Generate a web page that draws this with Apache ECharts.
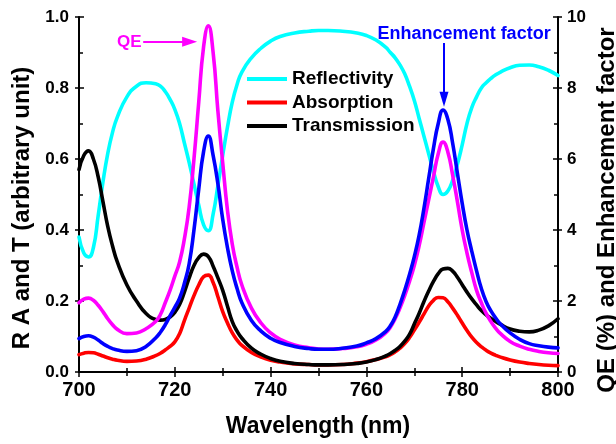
<!DOCTYPE html>
<html>
<head>
<meta charset="utf-8">
<script src="https://cdn.jsdelivr.net/npm/echarts@6/dist/echarts.min.js"></script>
<style>html,body{margin:0;padding:0;background:#fff;}#c{width:616px;height:444px;}</style>
</head>
<body>
<div id="c"></div>
<script>
const wavelength = [700,701,702,703,704,705,706,707,708,710,712,714,716,717,718,719,720,721,722,723,724,725,726,727,728,729,730,731,732,733,734,736,738,740,742,745,748,750,752,755,758,760,762,764,765,766,767,768,769,770,771,772,773,774,775,776,777,778,779,780,781,782,783,784,785,786,787,788,790,792,794,796,798,800];

const reflectivity = [0.38,0.335,0.324,0.35,0.44,0.535,0.615,0.675,0.718,0.775,0.805,0.815,0.812,0.805,0.79,0.768,0.74,0.70,0.645,0.59,0.53,0.47,0.415,0.398,0.445,0.525,0.61,0.69,0.76,0.81,0.845,0.885,0.912,0.932,0.945,0.955,0.96,0.962,0.962,0.96,0.955,0.948,0.935,0.915,0.90,0.885,0.865,0.84,0.805,0.765,0.715,0.665,0.615,0.565,0.522,0.50,0.51,0.54,0.585,0.64,0.70,0.745,0.775,0.80,0.815,0.827,0.837,0.845,0.857,0.864,0.865,0.86,0.85,0.835];

const absorption = [0.049,0.053,0.055,0.054,0.05,0.045,0.04,0.036,0.033,0.03,0.031,0.036,0.046,0.053,0.062,0.072,0.085,0.108,0.145,0.18,0.215,0.245,0.268,0.273,0.252,0.212,0.17,0.138,0.11,0.09,0.075,0.055,0.042,0.033,0.028,0.023,0.021,0.02,0.02,0.021,0.025,0.029,0.035,0.043,0.049,0.057,0.067,0.08,0.097,0.118,0.14,0.163,0.186,0.202,0.21,0.209,0.198,0.18,0.16,0.138,0.117,0.098,0.083,0.071,0.061,0.053,0.047,0.042,0.034,0.028,0.024,0.021,0.019,0.018];

const transmission = [0.57,0.61,0.623,0.60,0.55,0.48,0.41,0.355,0.31,0.245,0.20,0.165,0.148,0.146,0.148,0.155,0.168,0.19,0.225,0.265,0.30,0.322,0.332,0.325,0.298,0.265,0.23,0.185,0.142,0.115,0.095,0.067,0.05,0.038,0.03,0.024,0.021,0.02,0.02,0.021,0.024,0.028,0.035,0.045,0.052,0.061,0.072,0.087,0.106,0.135,0.165,0.198,0.228,0.255,0.277,0.29,0.292,0.284,0.267,0.246,0.225,0.206,0.189,0.173,0.161,0.151,0.142,0.134,0.121,0.115,0.113,0.118,0.13,0.15];

const qe = [1.95,2.05,2.08,2.02,1.88,1.7,1.5,1.33,1.2,1.08,1.1,1.22,1.42,1.62,1.95,2.3,2.7,3.1,3.75,4.65,6.0,7.6,9.15,9.75,9.0,7.35,5.9,4.55,3.6,2.95,2.45,1.8,1.38,1.1,0.92,0.76,0.68,0.65,0.64,0.66,0.71,0.78,0.9,1.1,1.26,1.5,1.8,2.15,2.55,3.0,3.55,4.2,4.85,5.5,6.15,6.48,6.2,5.55,4.8,4.0,3.35,2.8,2.3,1.95,1.65,1.42,1.23,1.08,0.86,0.73,0.64,0.58,0.54,0.52];

const enhancement = [0.94,1.0,1.02,0.98,0.9,0.8,0.72,0.66,0.62,0.58,0.6,0.72,0.96,1.12,1.33,1.58,1.82,2.08,2.5,3.05,4.0,5.15,6.2,6.65,6.1,5.3,4.3,3.5,2.85,2.35,1.95,1.45,1.15,0.95,0.83,0.72,0.66,0.64,0.64,0.67,0.73,0.82,0.94,1.14,1.3,1.55,1.9,2.3,2.75,3.25,3.85,4.6,5.45,6.3,7.0,7.38,7.12,6.45,5.6,4.75,4.0,3.4,2.85,2.35,1.98,1.72,1.52,1.35,1.1,0.92,0.8,0.74,0.7,0.68];

const xTicks = {min: 700, max: 800, interval: 20};
const leftTicks = {min: 0, max: 1, interval: 0.2};
const rightTicks = {min: 0, max: 10, interval: 2};

const FONT = "'Liberation Sans', Arial, Helvetica, sans-serif";

function pairs(ys) { return wavelength.map((w, i) => [w, ys[i]]); }

const chart = echarts.init(document.getElementById('c'), null, {renderer: 'canvas'});

const axisLine = {show: true, lineStyle: {color: '#000', width: 2}};
const tickIn = {show: true, inside: true, length: 5, lineStyle: {color: '#000', width: 1.5}};
const tickOut = {show: true, inside: false, length: 4, lineStyle: {color: '#000', width: 1.5}};
const minor = {show: true, splitNumber: 2, length: 4, lineStyle: {color: '#000', width: 1.5}};

function lineSeries(name, data, color, yIdx, z) {
  return {
    name: name, type: 'line', data: pairs(data), xAxisIndex: 0, yAxisIndex: yIdx,
    smooth: 0.5, showSymbol: false, symbol: 'none', z: z,
    lineStyle: {color: color, width: 3.6, join: 'round', cap: 'round'},
    itemStyle: {color: color},
    emphasis: {disabled: true}
  };
}

const sR = lineSeries('Reflectivity', reflectivity, '#00FFFF', 0, 2);
const sA = lineSeries('Absorption', absorption, '#FF0000', 0, 3);
const sT = lineSeries('Transmission', transmission, '#000000', 0, 4);
const sQ = lineSeries('QE', qe, '#FF00FF', 1, 5);
const sE = lineSeries('Enhancement factor', enhancement, '#0000FF', 1, 6);

sQ.markLine = {
  silent: true, animation: false,
  symbol: ['none', 'triangle'],
  lineStyle: {color: '#FF00FF', width: 2, type: 'solid'},
  label: {show: false},
  data: [[{coord: [713.4, 9.3], symbol: 'none'}, {coord: [723.1, 9.3], symbol: 'triangle', symbolSize: [10, 15]}]]
};
sQ.markPoint = {
  silent: true, animation: false,
  symbol: 'circle', symbolSize: 1, itemStyle: {color: 'rgba(0,0,0,0)'},
  label: {show: true, position: 'inside', color: '#FF00FF', fontSize: 17, fontWeight: 'bold', fontFamily: FONT, formatter: 'QE'},
  data: [{coord: [710.5, 9.3]}]
};
sE.markLine = {
  silent: true, animation: false,
  symbol: ['none', 'triangle'],
  lineStyle: {color: '#0000FF', width: 2, type: 'solid'},
  label: {show: false},
  data: [[{coord: [776.2, 9.27], symbol: 'none'}, {coord: [776.2, 7.68], symbol: 'triangle', symbolSize: [9, 15]}]]
};
sE.markPoint = {
  silent: true, animation: false,
  symbol: 'circle', symbolSize: 1, itemStyle: {color: 'rgba(0,0,0,0)'},
  label: {show: true, position: 'inside', color: '#0000FF', fontSize: 18, fontWeight: 'bold', fontFamily: FONT, formatter: 'Enhancement factor'},
  data: [{coord: [780.4, 9.51]}]
};

const option = {
  animation: false,
  backgroundColor: '#fff',
  grid: {left: 79, right: 58, top: 17, bottom: 72, containLabel: false},
  legend: {
    data: ['Reflectivity', 'Absorption', 'Transmission'],
    orient: 'vertical', left: 247, top: 69, padding: 0,
    itemWidth: 40, itemHeight: 4, itemGap: 3.5, icon: 'rect',
    selectedMode: false,
    textStyle: {fontSize: 19, fontWeight: 'bold', color: '#000', fontFamily: FONT, lineHeight: 20}
  },
  xAxis: [
    {type: 'value', position: 'bottom', min: xTicks.min, max: xTicks.max, interval: xTicks.interval,
     axisLine: axisLine, axisTick: tickIn, minorTick: minor, splitLine: {show: false},
     axisLabel: {fontSize: 20, fontWeight: 'bold', color: '#000', fontFamily: FONT, margin: 8}},
    {type: 'value', position: 'top', min: xTicks.min, max: xTicks.max, interval: xTicks.interval,
     axisLine: axisLine, axisTick: tickIn, minorTick: minor, splitLine: {show: false}, axisLabel: {show: false}},
    {type: 'value', position: 'bottom', min: xTicks.min, max: xTicks.max, interval: xTicks.interval,
     axisLine: {show: false}, axisTick: tickOut, splitLine: {show: false}, axisLabel: {show: false}}
  ],
  yAxis: [
    {type: 'value', position: 'left', min: leftTicks.min, max: leftTicks.max, interval: leftTicks.interval,
     axisLine: axisLine, axisTick: tickIn, minorTick: minor, splitLine: {show: false},
     axisLabel: {fontSize: 17, fontWeight: 'bold', color: '#000', fontFamily: FONT, margin: 10,
                 formatter: v => v.toFixed(1)}},
    {type: 'value', position: 'right', min: rightTicks.min, max: rightTicks.max, interval: rightTicks.interval,
     axisLine: axisLine, axisTick: tickIn, minorTick: minor, splitLine: {show: false},
     axisLabel: {fontSize: 17, fontWeight: 'bold', color: '#000', fontFamily: FONT, margin: 9}},
    {type: 'value', position: 'left', min: leftTicks.min, max: leftTicks.max, interval: leftTicks.interval,
     axisLine: {show: false}, axisTick: tickOut, splitLine: {show: false}, axisLabel: {show: false}},
    {type: 'value', position: 'right', min: rightTicks.min, max: rightTicks.max, interval: rightTicks.interval,
     axisLine: {show: false}, axisTick: tickOut, splitLine: {show: false}, axisLabel: {show: false}}
  ],
  graphic: [
    {type: 'text', x: 318, y: 427, silent: true,
     style: {text: 'Wavelength (nm)', font: "bold 23px " + FONT, fill: '#000', align: 'center', verticalAlign: 'middle'}},
    {type: 'text', x: 22, y: 208, rotation: Math.PI / 2, silent: true,
     style: {text: 'R A and T (arbitrary unit)', font: "bold 24px " + FONT, fill: '#000', align: 'center', verticalAlign: 'middle'}},
    {type: 'text', x: 607, y: 210, rotation: Math.PI / 2, silent: true,
     style: {text: 'QE (%) and Enhancement factor', font: "bold 24px " + FONT, fill: '#000', align: 'center', verticalAlign: 'middle'}}
  ],
  series: [sR, sA, sT, sQ, sE]
};

chart.setOption(option);
</script>
</body>
</html>
